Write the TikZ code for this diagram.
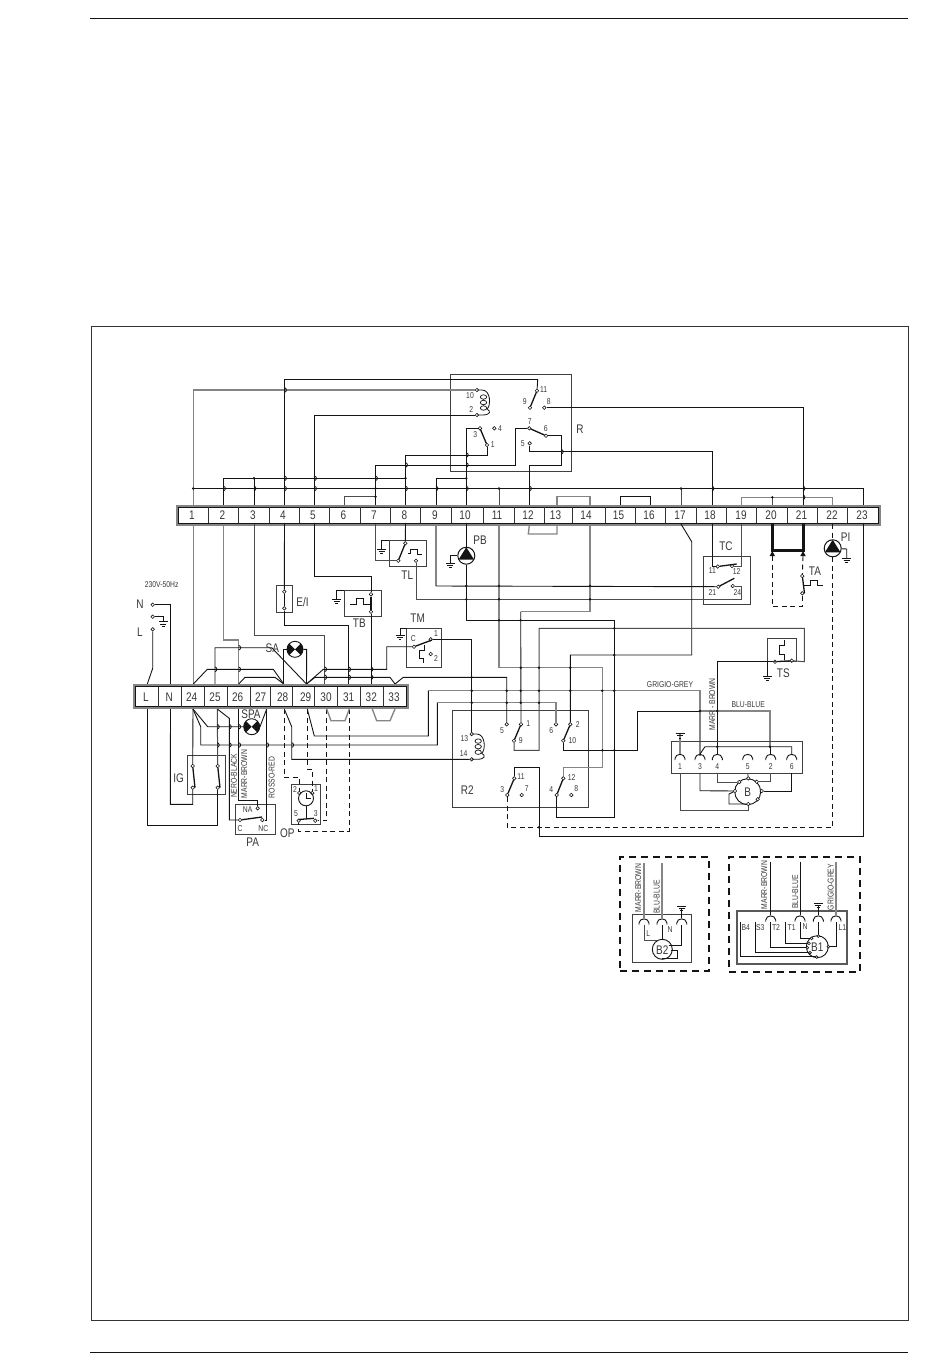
\documentclass[tikz,border=0pt]{standalone}
\usepackage{fontspec}
\usetikzlibrary{shapes.geometric}
\newfontfamily\isofont[FakeStretch=0.8]{Liberation Sans}
\definecolor{wg}{gray}{0.52}
\definecolor{ink}{gray}{0.08}
\newcount\lc
\tikzset{
 x=1pt,y=-1pt,
 wk/.style={draw=ink,line width=0.9pt},
 wg/.style={draw=wg,line width=1.35pt},
 wm/.style={draw=black!70,line width=1pt},
 wd/.style={draw=ink,line width=0.9pt,dash pattern=on 5pt off 3.5pt},
 box/.style={draw=black!75,line width=0.9pt},
 blade/.style={draw=ink,line width=1.3pt},
 contact/.style={diamond,draw=ink,fill=white,inner sep=0pt,minimum size=3.8pt,line width=0.6pt},
 lab/.style={text=black!78,inner sep=0pt},
 big/.style={lab,font=\isofont\fontsize{12.5}{12.5}\selectfont},
 mid/.style={lab,font=\isofont\fontsize{10}{10}\selectfont},
 sm/.style={lab,font=\isofont\fontsize{8.5}{8.5}\selectfont},
 vsm/.style={lab,rotate=90,font=\isofont\fontsize{8.5}{8.5}\selectfont},
 insetbox/.style={draw=ink,line width=1.9pt,dash pattern=on 7pt off 5pt},
}
\newcommand\txt[4]{\global\advance\lc by 1 \node[#1] (lab\the\lc) at (#2,#3) {#4};}
\newcommand\ct[3]{\node[contact] (#1) at (#2,#3) {};}
\newcommand\jd[2]{\fill[ink] (#1,#2) circle[radius=1.35pt];}
\newcommand\hp[2]{\draw[ink,line width=0.8pt] (#1,#2-2.4) .. controls (#1+2.6,#2-1.4) and (#1+2.6,#2+1.4) .. (#1,#2+2.4);}
\newcommand\gnd[2]{\draw[ink,line width=0.9pt] (#1-4.5,#2) -- (#1+4.5,#2) (#1-3,#2+2.4) -- (#1+3,#2+2.4) (#1-1.3,#2+4.8) -- (#1+1.3,#2+4.8);}
\newcommand\lamp[3]{\node[circle,draw=ink,fill=white,line width=0.9pt,inner sep=0pt,minimum size=16pt] (#1) at (#2,#3) {};
 \fill[ink] (#2,#3) -- (#2-5.7,#3-5.7) -- (#2-7.4,#3-3) -- (#2-8,#3) -- (#2-7.4,#3+3) -- (#2-5.7,#3+5.7) -- cycle;
 \fill[ink] (#2,#3) -- (#2+5.7,#3-5.7) -- (#2+7.4,#3-3) -- (#2+8,#3) -- (#2+7.4,#3+3) -- (#2+5.7,#3+5.7) -- cycle;}
\newcommand\pump[3]{\node[circle,draw=ink,fill=white,line width=1pt,inner sep=0pt,minimum size=17pt] (#1) at (#2,#3) {};
 \fill[ink] (#2,#3-8.5) -- (#2-7.8,#3+4) -- (#2+7.8,#3+4) -- cycle;}
\newcommand\plug[2]{\draw[ink,line width=0.9pt] (#1-5,#2+3.5) -- (#1-5,#2+2) .. controls (#1-4.5,#2-3.5) and (#1+4.5,#2-3.5) .. (#1+5,#2+2) -- (#1+5,#2+3.5);}
\newcommand\coil[3]{\draw[ink,line width=0.8pt] (#1,#2) -- (#1+5,#2) .. controls (#1+14,#2) and (#1+14,#3-9) .. (#1+10,#3-6) .. controls (#1+14,#3-4) and (#1+14,#3) .. (#1+5,#3) -- (#1,#3);
 \draw[ink,line width=0.7pt] (#1+6.5,#2*0.72+#3*0.28) ellipse (3.2pt and 2.2pt) (#1+6.5,#2*0.5+#3*0.5) ellipse (3.2pt and 2.2pt) (#1+6.5,#2*0.28+#3*0.72) ellipse (3.2pt and 2.2pt);}
\begin{document}
\begin{tikzpicture}
\useasboundingbox (0,0) rectangle (950,1369);
\fill[white] (0,0) rectangle (950,1369);
% page rules and frame
\coordinate (ruleTa) at (90,18); \coordinate (ruleTb) at (908,18);
\coordinate (ruleBa) at (90,1352); \coordinate (ruleBb) at (908,1352);
\draw[ink,line width=0.9pt] (ruleTa) -- (ruleTb);
\draw[ink,line width=0.9pt] (ruleBa) -- (ruleBb);
\node[draw=black!80,line width=0.9pt,minimum width=817pt,minimum height=994pt,inner sep=0pt] (frame) at (499.5,823) {};

% terminal coordinates
\foreach \n/\x in {1/193.3,2/223.5,3/254,4/284.5,5/314.5,6/344.5,7/375.5,8/405.5,9/436,10/466.3,11/499,12/529.5,13/557,14/590,15/620,16/650.5,17/681,18/712,19/741.7,20/772.3,21/803,22/832.7,23/863}{
  \coordinate (t\n) at (\x,505); \coordinate (u\n) at (\x,524);}
\foreach \n/\x in {L/147.3,N/170.7,24/193.3,25/215,26/238.7,27/262,28/283.7,29/306.5,30/324.7,31/348.7,32/371,33/395}{
  \coordinate (a\n) at (\x,684);}
\foreach \n/\x in {L/147.3,N/170.5,24/193,25/217.3,26/238.7,27/266.7,28/284.3,29/307.3,30/326.7,31/349.3,32/372.3,33/395}{
  \coordinate (b\n) at (\x,709);}

% contacts
\ct{Rc11}{537}{390.7}\ct{Rc9}{530}{407.7}\ct{Rc8}{544.3}{407.7}
\ct{Rc7}{529.3}{428.3}\ct{Rc6}{546}{435.7}\ct{Rc5}{529.7}{443.3}
\ct{Rc3}{480}{428.3}\ct{Rc4}{494.3}{428.3}\ct{Rc1}{487}{445}
\ct{Rc10}{477}{390}\ct{Rc2}{477}{415}
\ct{Tc1}{405.3}{543.3}\ct{Tc2}{398.3}{560.7}\ct{Tc3}{416}{560.7}
\ct{Cc11}{717.7}{566.5}\ct{Cc12}{732}{566}\ct{Cc21}{718.3}{586.7}\ct{Cc24}{732.7}{586}
\ct{Ac1}{802.3}{576}\ct{Ac2}{802.3}{593.3}
\ct{Sc1}{775}{661.7}\ct{Sc2}{791.7}{660.7}
\ct{Mc}{414}{646.7}\ct{Mc1}{430.7}{639.3}\ct{Mc2}{430.7}{654}
\ct{Ec1}{284.3}{591.7}\ct{Ec2}{284.3}{608.3}
\ct{Bc1}{371}{594.3}\ct{Bc2}{371}{611.7}
\ct{Pn}{152.7}{604.7}\ct{Pg}{152.7}{616.7}\ct{Pl}{152.7}{629.3}
\ct{Ia}{192.7}{766}\ct{Ib}{192.7}{787.7}\ct{Ic}{217.7}{766}\ct{Id}{217.7}{787.7}
\ct{Pna}{257.7}{808.3}\ct{Pc}{240}{820}\ct{Pnc}{262.3}{820}
\ct{Oa}{299.3}{793}\ct{Ob}{312.3}{793}\ct{Oc}{298.7}{820.7}\ct{Od}{315.3}{820.7}
\ct{Qc13}{471.7}{734}\ct{Qc14}{471.7}{759.3}
\ct{Qc5}{506.7}{724.3}\ct{Qc1}{521}{724.3}\ct{Qc9}{514}{740.7}
\ct{Qc6}{556}{724.3}\ct{Qc2}{570.3}{724.3}\ct{Qc10}{563.3}{740.7}
\ct{Qc11}{514.3}{778.3}\ct{Qc3}{507.3}{795}\ct{Qc7}{521.7}{795}
\ct{Qc12}{563.3}{778.3}\ct{Qc4}{556.7}{795}\ct{Qc8}{571.3}{795}

% lamps / pumps
\lamp{SA}{295}{649.3}
\lamp{SPA}{251.7}{726.7}
\pump{PB}{466.3}{555.7}
\pump{PI}{832.7}{548.3}

% ---- component boxes
\draw[box] (450.7,374.7) rectangle (571.3,471);
\draw[box] (389.3,540.3) rectangle (426.7,566.7);
\draw[box] (703.3,556.7) rectangle (750,604.3);
\draw[box] (276,585.7) rectangle (292.7,612.3);
\draw[box] (344.3,590.7) rectangle (381.7,616);
\draw[box] (406.7,628.3) rectangle (441.7,667.7);
\draw[box] (767.3,638.3) rectangle (796.7,661.7);
\draw[box] (452.3,710.7) rectangle (588.7,807.3);
\draw[box] (187,755) rectangle (225,794.7);
\draw[box] (235.7,804.7) rectangle (275.3,834);
\draw[box] (291.7,784.7) rectangle (320.3,824.3);

% ---- wires above the top strip
\draw[wk] (193.3,488.5) -- (863,488.5) -- (t23);
\draw[wk] (t2) -- (223.5,478.3) -- (405.5,478.3);
\draw[wk] (t9) -- (436,478.3) -- (466.3,478.3);
\draw[wg] (t1) -- (193.3,390) -- (Rc10);
\draw[wk] (t4) -- (284.5,379.5) -- (537.7,379.5) -- (Rc11);
\draw[wk] (t5) -- (314.5,415) -- (Rc2);
\draw[wk] (t8) -- (405.5,455) -- (487,455) -- (Rc1);
\draw[wk] (t7) -- (375.5,465) -- (515.7,465) -- (515.7,428.3) -- (Rc7);
\draw[wk] (t10) -- (466.3,428.3) -- (Rc3);
\draw[wk] (t3) -- (254,478.3);
\draw[wm] (t6) -- (344.5,496.7) -- (375.5,496.7);
\draw[wg] (t13) -- (557,496.7) -- (590,496.7) -- (t14);
\draw[wk] (t15) -- (620,496.7) -- (650.5,496.7) -- (t16);
\draw[wg] (t19) -- (741.7,497.3) -- (832.7,497.3) -- (t22);
\draw[wm] (t20) -- (772.3,497.3);
\draw[wk] (t21) -- (803,407.7) -- (Rc8);
\draw[wm] (t11) -- (499,488.5);
\draw[wm] (t17) -- (681,488.5);
\draw[wk] (t12) -- (529.5,465) -- (561.3,465) -- (561.3,435.7) -- (Rc6);
\draw[wk] (t18) -- (712,451.7) -- (529.7,451.7) -- (Rc5);
\draw[blade] (Rc11) -- (Rc9);
\draw[blade] (Rc7) -- (Rc6);
\draw[blade] (Rc3) -- (Rc1);
\coil{477}{390}{415}
% junctions, hops at the top
\foreach \p in {193.3,375.5,499,681}{\jd{\p}{488.5}}
\foreach \p in {254,405.5}{\jd{\p}{478.3}}
\jd{466.3}{478.3}\jd{375.5}{496.7}\jd{772.3}{497.3}
\foreach \p in {223.5,254,284.5,314.5,405.5,436,466.3,529.5,712,803}{\hp{\p}{488.5}}
\foreach \p in {284.5,314.5,375.5}{\hp{\p}{478.3}}
\hp{284.5}{390}\hp{405.5}{465}\hp{466.3}{455}\hp{466.3}{465}\hp{561.3}{451.7}\hp{803}{497.3}

% ---- top terminal strip
\draw[draw=wg,line width=2pt] (176.5,505.5) rectangle (880,524.5);
\draw[draw=ink,line width=0.8pt] (178,507) rectangle (878.5,523.3);
\foreach \p in {208.3,238.3,269,299.3,329.3,360,390,420.7,451,483.3,514.3,544.3,572.3,605,635.3,665.7,696.3,726,756.7,787.3,817.3,847.3}{\draw[draw=black!80,line width=0.8pt] (\p,507) -- (\p,523.3);}
\foreach \n/\x in {1/192,2/222.5,3/253,4/283,5/313,6/343.5,7/374,8/404.5,9/435,10/465,11/497,12/528,13/555.5,14/586,15/618.5,16/649,17/680,18/710,19/741,20/771,21/801.5,22/832,23/862}{\global\advance\lc by 1 \node[big] (lab\the\lc) at (\x,515.5) {\n};}

% ---- below the top strip
\draw[wg] (u1) -- (a24);
\draw[wg] (u2) -- (223.5,640) -- (238.7,640) -- (a26);
\draw[wm] (u3) -- (254,635) -- (324.7,635) -- (a30);
\draw[wk] (u4) -- (Ec1);
\draw[wk] (Ec2) -- (284.3,625.7) -- (348.7,625.7) -- (a31);
\draw[wk] (u5) -- (314.5,576.7) -- (371,576.7) -- (Bc1);
\draw[wk] (Bc2) -- (a32);
\draw[blade] (Ec1) -- (Ec2);
\draw[blade] (Bc1) -- (Bc2);
\draw[wk] (u8) -- (Tc1);
\draw[wm] (u7) -- (375.5,560.7) -- (Tc2);
\draw[blade] (Tc1) -- (Tc2);
\draw[wm] (Tc3) -- (416,599.3) -- (741.7,599.3) -- (741.7,586) -- (Cc24);
\draw[wg] (u9) -- (436,586);
\draw[wk] (436,586) -- (Cc21);
\draw[wk] (u10) -- (PB);
\draw[wk] (PB) -- (466.3,620.3) -- (614.3,620.3) -- (614.3,817.3) -- (556.7,817.3) -- (Qc4);
\draw[wg] (u11) -- (499,667.7) -- (602.3,667.7) -- (602.3,767.3) -- (563.3,767.3) -- (Qc12);
\draw[wg] (u14) -- (590,611.7) -- (520.7,611.7);
\draw[wk] (520.7,611.7) -- (Qc1);
\draw[wg] (u12) -- (528.3,534) -- (557,534) -- (u13);
\draw[wk] (u17) -- (691.7,541.7) -- (691.7,655) -- (570.3,655) -- (Qc2);
\draw[wk] (u18) -- (712,566.5) -- (Cc11);
\draw[wm] (u19) -- (741.7,566) -- (Cc12);
\draw[blade] (Cc11) -- (736.7,564);
\draw[blade] (Cc21) -- (734.3,578.3);
\draw[ink,line width=3pt] (u20) -- (772.3,550) -- (803,550) -- (u21);
\fill[ink] (772.3,551) -- (769.6,556) -- (775,556) -- cycle;
\fill[ink] (803,551) -- (800.3,556) -- (805.7,556) -- cycle;
\draw[wd] (772.3,556) -- (772.3,606) -- (802.3,606) -- (Ac2);
\draw[wd] (803,556) -- (Ac1);
\draw[blade] (Ac1) -- (804.5,593.3);
\draw[wd] (u22) -- (PI);
\draw[wd] (PI) -- (832.7,827.3) -- (507.3,827.3) -- (Qc3);
\draw[wk] (PI) -- (846.7,549) -- (846.7,558);
\gnd{846.7}{558}
\draw[wm] (Sc2) -- (804.3,661.7) -- (804.3,628.3) -- (539,628.3) -- (539,750.3) -- (514,750.3) -- (Qc9);
\draw[blade] (Sc1) -- (Sc2);
\draw[wk] (Sc1) -- (717.3,661.7) -- (717.3,746.7);
\draw[wk] (u23) -- (863,836.7) -- (539,836.7) -- (539,767.3) -- (514.3,767.3) -- (Qc11);

% grounds and thermostat symbols
\draw[wk] (389.3,540.3) -- (381.7,540.3) -- (381.7,549); \gnd{381.7}{549}
\draw[wk] (344.3,590.7) -- (336.7,590.7) -- (336.7,599); \gnd{336.7}{599}
\draw[wk] (406.7,628.3) -- (400,628.3) -- (400,635); \gnd{400}{635}
\draw[wk] (767.3,661.7) -- (767.3,676); \gnd{767.3}{676}
\draw[wk] (PB.west) -- (450.3,555.7) -- (450.3,563); \gnd{450.3}{563}
\draw[wk] (408,553.3) -- (410.7,553.3) -- (410.7,549) -- (417.7,549) -- (417.7,554) -- (421.7,554);
\draw[wk] (350,604.3) -- (356.7,604.3) -- (356.7,598.3) -- (363.3,598.3) -- (363.3,604.3) -- (369.5,604.3);
\draw[wk] (804,585) -- (810,585) -- (810,580) -- (817.3,580) -- (817.3,585.7) -- (823,585.7);
\draw[wk] (424,645) -- (424,650) -- (419,650) -- (419,658.3) -- (423.3,658.3) -- (423.3,662.7);
\draw[wk] (784.3,660) -- (784.3,654) -- (779,654) -- (779,645) -- (784.3,645) -- (784.3,640);

% ---- mains input
\draw[wk] (Pn) -- (170.7,604.7) -- (aN);
\draw[wk] (Pg) -- (163.3,616.7) -- (163.3,621.7); \gnd{163.3}{621.7}
\draw[wk] (Pl) -- (152.7,668.3) -- (aL);

% ---- above lower strip
\draw[wk] (a25) -- (215,647.7) -- (271.7,647.7) -- (a29);
\draw[wk] (a24) -- (207.3,669.3) -- (273.3,669.3) -- (a28);
\draw[wk] (a26) -- (245,677.3) -- (275,677.3) -- (a28);
\draw[wk] (a29) -- (315,677.3) -- (390,677.3) -- (a33) -- (403.3,677.3) -- (506.7,677.3) -- (Qc5);
\draw[wk] (a29) -- (323.3,669.3) -- (386.7,669.3) -- (386.7,646.7) -- (Mc);
\draw[wk] (Mc1) -- (471.7,639.3) -- (Qc13);
\draw[blade] (Mc) -- (432,640);
\draw[wk] (SA.west) -- (283.7,649.3) -- (a28);
\draw[wk] (SA.east) -- (306.7,649.3) -- (a29);

% ---- lower terminal strip
\draw[draw=wg,line width=2pt] (134,685) rectangle (408.3,708.3);
\draw[draw=ink,line width=0.8pt] (135.5,686.5) rectangle (406.8,706.8);
\foreach \p in {158.3,181.3,204.3,227.3,250,270.7,292.7,314.7,337.3,360.7,383.3}{\draw[draw=black!80,line width=0.8pt] (\p,686.5) -- (\p,706.8);}
\foreach \n/\x in {L/146,N/169.3,24/191.7,25/215,26/237.7,27/260.7,28/282.7,29/305.7,30/326,31/348.7,32/371.3,33/394}{\global\advance\lc by 1 \node[big] (lab\the\lc) at (\x,697) {\n};}

% ---- below lower strip
\draw[wk] (bL) -- (147.3,825.3) -- (217.7,825.3) -- (Id);
\draw[wk] (bN) -- (170.3,804.3) -- (192.7,804.3) -- (Ib);
\draw[wk] (b24) -- (Ia);
\draw[wm] (b25) -- (Ic);
\draw[blade] (Ia) -- (195,787.7);
\draw[blade] (Ic) -- (220,787.7);
\draw[wk] (b24) -- (207.7,726.7) -- (SPA);
\draw[wk] (SPA) -- (260,726.7) -- (b27);
\draw[wk] (b24) -- (200.7,726.7) -- (200.7,745) -- (437.3,745) -- (437.3,702.7);
\draw[wg] (437.3,702.7) -- (556,702.7) -- (Qc6);
\draw[wk] (b26) -- (238.7,800) -- (257.7,800) -- (Pna);
\draw[wk] (b25) -- (229.3,718.3) -- (229.3,820) -- (Pc);
\draw[wk] (b27) -- (266.7,820) -- (Pnc);
\draw[blade] (Pc) -- (262,817);
\draw[wk] (b28) -- (291.7,726.7) -- (291.7,759.3) -- (Qc14);
\draw[wk] (b29) -- (314.3,736) -- (428.3,736) -- (428.3,690.7);
\draw[wg] (428.3,690.7) -- (700,690.7) -- (700,756);
\draw[wd] (b28) -- (284.3,777.3) -- (299.3,777.3) -- (Oa);
\draw[wd] (b29) -- (307.3,769.3) -- (312.3,769.3) -- (Ob);
\draw[wd] (b30) -- (326.7,820.7) -- (Od);
\draw[wd] (b31) -- (349.3,831) -- (298.7,831) -- (Oc);
\draw[wg] (b30) -- (331,720.7) -- (345,720.7) -- (b31);
\draw[wg] (b32) -- (376.7,720.7) -- (390,720.7) -- (b33);

% ---- OP timer
\node[circle,draw=ink,line width=0.9pt,inner sep=0pt,minimum size=15pt] (clock) at (306,798.3) {};
\draw[wk] (306,798.3) -- (306,792.5) (306,798.3) -- (311,798.3);
\draw[wk] (clock) -- (306,819);
\draw[blade] (298.7,819.5) -- (314,818.3);

% ---- R2
\draw[blade] (Qc10) -- (Qc2);
\draw[blade] (Qc9) -- (Qc1);
\draw[blade] (Qc11) -- (Qc3);
\draw[blade] (Qc12) -- (Qc4);
\draw[wk] (Qc10) -- (563.3,750.3) -- (637.3,750.3) -- (637.3,711);
\draw[wk] (637.3,711) -- (700,711);
\draw[wg] (700,711) -- (770,711) -- (770,746.7);
\coil{471.7}{734}{759.3}

% lower junctions and hops
\foreach \p in {471.7,506.7,520.7,539,570.3,602.3,614.3}{\jd{\p}{690.7}}
\foreach \p in {471.7,506.7,520.7,539}{\jd{\p}{702.7}}
\jd{471.7}{677.3}\jd{614.3}{655}\jd{614.3}{628.3}\jd{539}{827.3}
\foreach \p in {520.7,539,570.3}{\jd{\p}{667.7}}
\foreach \p in {499,520.7}{\jd{\p}{620.3}}
\foreach \p in {466.3,499,590}{\jd{\p}{586}\jd{\p}{599.3}}
\foreach \p in {602.3,614.3}{\jd{\p}{750.3}}
\foreach \p in {700,717.3}{\jd{\p}{711}}
\foreach \p in {717.3,770}{\jd{\p}{746.7}}
\hp{238.7}{647.7}\hp{238.7}{669.3}\hp{215}{669.3}
\foreach \p in {324.7,348.7,371}{\hp{\p}{669.3}\hp{\p}{677.3}}
\foreach \p in {217.3,229.3,238.7}{\hp{\p}{726.7}}
\foreach \p in {217.3,229.3,238.7,266.7,291.7}{\hp{\p}{745}}

% ---- motor B
\node[box,rectangle,minimum width=131.3pt,minimum height=31.6pt,inner sep=0pt] (Bbox) at (736.65,757.5) {};
\node[circle,draw=ink,line width=0.9pt,inner sep=0pt,minimum size=26pt] (B) at (747.7,791.7) {};
\ct{m1}{748.3}{778.3}\ct{m2}{756.7}{781.7}\ct{m3}{761.7}{791}\ct{m4}{757.7}{799.3}
\ct{m5}{748.3}{804}\ct{m6}{735}{791}\ct{m7}{739.3}{782}
\foreach \p in {680,700,717.3,747.7,770.7,791.7}{\plug{\p}{756.5}}
\draw[wg] (680,733.3) -- (680,754);
\draw[wk] (700,754) -- (705,746.7) -- (791.7,746.7) -- (791.7,754);
\draw[wk] (717.3,746.7) -- (717.3,754);
\draw[wk] (770.7,746.7) -- (770.7,754);
\draw[wm] (680,773) -- (680,810) -- (748.3,810) -- (m5);
\draw[wk] (700,773) -- (700,790.7) -- (m6);
\draw[wm] (717.3,773) -- (717.3,782) -- (m7);
\draw[wm] (747.7,773) -- (m1);
\draw[wm] (770.7,773) -- (770.7,781.7) -- (m2);
\draw[wk] (791.7,773) -- (791.7,791) -- (m3);
\draw[wk] (m6) -- (729,794) -- (729,804) -- (m5);
\gnd{680}{733.3}

% ---- inset B2
\node[insetbox,rectangle,minimum width=89pt,minimum height=114pt,inner sep=0pt] (in1) at (664.5,913.7) {};
\node[box,rectangle,minimum width=59.4pt,minimum height=47.6pt,inner sep=0pt] (in1b) at (662,938.5) {};
\node[circle,draw=ink,line width=0.9pt,inner sep=0pt,minimum size=20pt] (B2) at (662.3,949.3) {};
\foreach \p in {644,662,681.7}{\plug{\p}{921}}
\draw[wg] (644,863.3) -- (644,918);
\draw[wg] (662,863.3) -- (662,918);
\draw[wk] (681.7,908.3) -- (681.7,918);
\gnd{681.7}{906}
\draw[wm] (644,925) -- (644,940.7) -- (656.7,940.7);
\draw[wk] (662,925) -- (662,939);
\draw[wk] (681.7,925) -- (681.7,945) -- (669,945);
\draw[wk] (671,950) -- (677.7,950) -- (677.7,958.3) -- (662.3,958.3);

% ---- inset B1
\node[insetbox,rectangle,minimum width=131pt,minimum height=114.7pt,inner sep=0pt] (in2) at (794.5,914.3) {};
\node[draw=black!65,line width=1.2pt,rectangle,minimum width=110pt,minimum height=53pt,inner sep=0pt] (in2b) at (792,937.5) {};
\node[circle,draw=ink,line width=0.9pt,inner sep=0pt,minimum size=22pt] (B1) at (817.3,946.7) {};
\foreach \p in {770.7,800,818.3,836}{\plug{\p}{918}}
\draw[wk] (770.7,861.7) -- (770.7,915);
\draw[wk] (800,861.7) -- (800,915);
\draw[wg] (836,861.7) -- (836,915);
\draw[wk] (818.3,905) -- (818.3,915);
\gnd{818.3}{903}
\draw[wk] (740,921.7) -- (740,956.7) -- (816.7,956.7);
\draw[wk] (755.7,921.7) -- (755.7,952.7) -- (810,952.7);
\draw[wk] (770.7,922) -- (770.7,947.7) -- (807.3,947.7);
\draw[wk] (785.7,921.7) -- (785.7,943.3) -- (809,943.3);
\draw[wk] (800,922) -- (800,938.3) -- (811.7,938.3);
\draw[wk] (818.3,922) -- (818.3,936);
\draw[wk] (836,922) -- (836,946.7) -- (828.3,946.7);
\foreach \a/\b/\n in {816.7/957/q1,810/952.7/q2,807.3/947.7/q3,809/943.3/q4,811.7/938.3/q5,818.3/936/q6,828.3/946.7/q7}{\node[contact,minimum size=3pt] (\n) at (\a,\b) {};}

% ---- labels
\txt{big}{580}{429}{R}
\txt{sm}{470}{396}{10}\txt{sm}{471.3}{409.3}{2}\txt{sm}{543.7}{389.3}{11}\txt{sm}{524.7}{401.7}{9}\txt{sm}{548.7}{402}{8}
\txt{sm}{529.7}{421.3}{7}\txt{sm}{545.7}{429}{6}\txt{sm}{522.7}{443.3}{5}\txt{sm}{475.3}{434.7}{3}\txt{sm}{492.7}{444.7}{1}\txt{sm}{500}{428.7}{4}
\txt{big}{480}{540}{PB}\txt{big}{407.3}{575}{TL}\txt{big}{726}{545.7}{TC}\txt{big}{845.7}{536.7}{PI}\txt{big}{815}{570.7}{TA}
\txt{sm}{712.3}{571}{11}\txt{sm}{736.7}{571.7}{12}\txt{sm}{712.3}{592.3}{21}\txt{sm}{737.3}{592.7}{24}
\txt{big}{302.5}{602}{E/I}\txt{big}{359.3}{623}{TB}\txt{big}{417.7}{618.3}{TM}\txt{big}{783.3}{672.7}{TS}
\txt{sm}{413.3}{638.3}{C}\txt{sm}{436}{634}{1}\txt{sm}{436}{659}{2}
\txt{sm}{161.7}{585}{230V-50Hz}\txt{big}{140}{604}{N}\txt{big}{140}{631.7}{L}
\txt{big}{272.3}{647.7}{SA}\txt{big}{251}{714}{SPA}\txt{big}{178.7}{778.3}{IG}
\txt{vsm}{234}{775.8}{NERO-BLACK}\txt{vsm}{244.3}{774}{MARR-BROWN}\txt{vsm}{271.7}{777.5}{ROSSO-RED}
\txt{sm}{247.7}{809.3}{NA}\txt{sm}{240}{829}{C}\txt{sm}{263.3}{829}{NC}\txt{big}{252.7}{842.3}{PA}
\txt{big}{287.3}{832.7}{OP}\txt{sm}{295}{790}{2}\txt{sm}{316}{788.3}{1}\txt{sm}{296}{813.3}{5}\txt{sm}{315.7}{813.3}{3}
\txt{sm}{464.3}{738.3}{13}\txt{sm}{463.7}{753.3}{14}\txt{sm}{528.3}{724}{1}\txt{sm}{502}{730.7}{5}\txt{sm}{520.7}{740.7}{9}
\txt{sm}{551.3}{730.7}{6}\txt{sm}{577.7}{724.3}{2}\txt{sm}{572.3}{741}{10}
\txt{sm}{521}{776.7}{11}\txt{sm}{502.3}{789.3}{3}\txt{sm}{526.7}{789}{7}\txt{sm}{571.7}{777.3}{12}\txt{sm}{551.3}{789.3}{4}\txt{sm}{576.3}{789}{8}
\txt{big}{467.3}{790}{R2}
\txt{sm}{670}{684.5}{GRIGIO-GREY}\txt{sm}{748.3}{705}{BLU-BLUE}\txt{vsm}{712.3}{704.5}{MARR - BROWN}
\foreach \n/\x in {1/680,3/700,4/717.3,5/747.7,2/770.7,6/791.7}{\global\advance\lc by 1 \node[sm] (lab\the\lc) at (\x,767) {\n};}
\txt{big}{747.7}{792}{B}
\txt{vsm}{638.3}{888}{MARR-BROWN}\txt{vsm}{656.7}{897}{BLU-BLUE}\txt{sm}{648.3}{933.3}{L}\txt{sm}{670}{930}{N}\txt{big}{662.3}{950}{B2}
\txt{vsm}{764.3}{885}{MARR-BROWN}\txt{vsm}{795.3}{892}{BLU-BLUE}\txt{vsm}{830.7}{887}{GRIGIO-GREY}
\txt{sm}{745.7}{927.7}{B4}\txt{sm}{760.3}{927.7}{S3}\txt{sm}{776}{927.7}{T2}\txt{sm}{791.7}{927.7}{T1}\txt{sm}{805}{926.7}{N}\txt{sm}{842.3}{927.7}{L1}
\txt{big}{817.3}{947}{B1}
\end{tikzpicture}
\end{document}
